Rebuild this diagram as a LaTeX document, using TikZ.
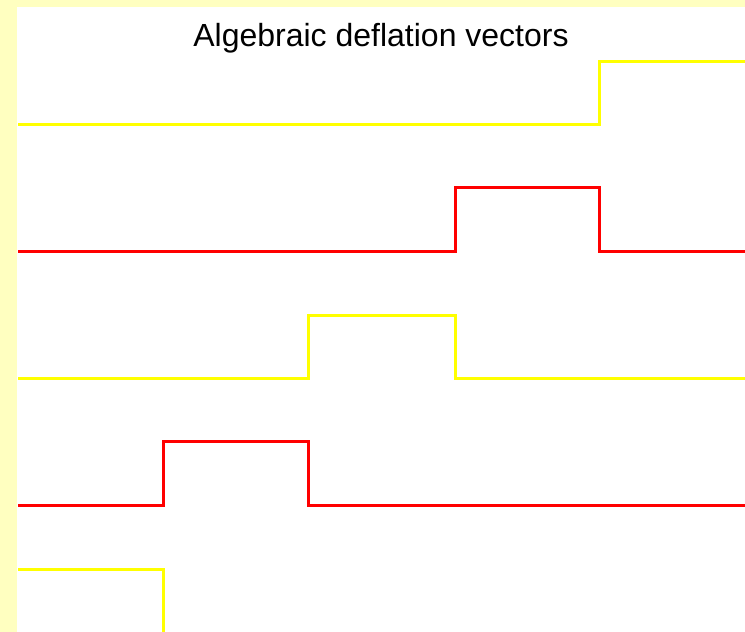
\documentclass[tikz,border=0pt]{standalone}
\usepackage{fontspec}
\setmainfont{Liberation Sans}
\definecolor{bgyellow}{RGB}{255,255,192}
\definecolor{lineyellow}{RGB}{255,255,0}
\definecolor{linered}{RGB}{255,0,0}
\begin{document}
\begin{tikzpicture}[x=1pt,y=-1pt,
  sig/.style={line width=3pt,line join=miter},
  ysig/.style={sig,draw=lineyellow},
  rsig/.style={sig,draw=linered}]
\useasboundingbox (0,0) rectangle (745,632);
\fill[bgyellow] (0,0) rectangle (745,632);
\fill[white] (17,7) rectangle (745,632);
\node[font=\fontsize{32}{38}\selectfont,anchor=base,inner sep=0pt] (title) at (381,46) {Algebraic deflation vectors};
\draw[ysig] (18,124) -- (599,124) -- (599,61) -- (745,61);
\draw[rsig] (18,251) -- (455,251) -- (455,187) -- (599,187) -- (599,251) -- (745,251);
\draw[ysig] (18,378) -- (308,378) -- (308,315) -- (455,315) -- (455,378) -- (745,378);
\draw[rsig] (18,505) -- (163,505) -- (163,441) -- (308,441) -- (308,505) -- (745,505);
\draw[ysig] (18,569) -- (163,569) -- (163,632);
\end{tikzpicture}
\end{document}
